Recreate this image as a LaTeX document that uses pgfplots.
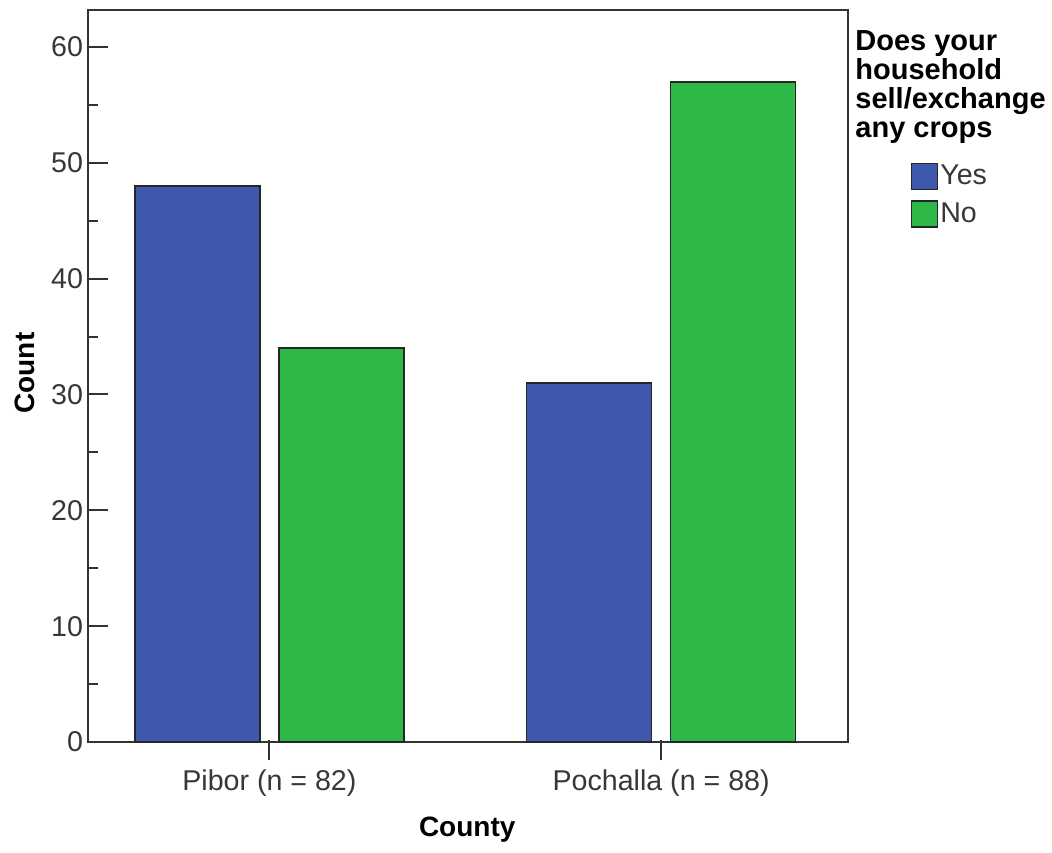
\documentclass[border=0pt]{standalone}
\usepackage{fontspec}
\setmainfont{Liberation Sans}
\usepackage{pgfplots}
\pgfplotsset{compat=1.18}
\definecolor{spssblue}{RGB}{62,88,172}
\definecolor{spssgreen}{RGB}{46,184,72}
\definecolor{ticktext}{RGB}{55,55,55}
\begin{document}
\begin{tikzpicture}
\pgfplotsset{mylegend/.style={legend image code/.code={\draw[##1,draw=black!85,line width=0.8pt] (0pt,-6.5pt) rectangle (13pt,6.5pt);}}}
\begin{axis}[
  at={(0,0)}, anchor=south west,
  scale only axis, width=380pt, height=366pt,
  ymin=0, ymax=63.19,
  xmin=-0.463, xmax=1.477,
  xtick={0,1}, xticklabels={Pibor (n = 82), Pochalla (n = 88)},
  ytick={0,10,20,30,40,50,60},
  minor ytick={5,15,25,35,45,55},
  tick align=inside,
  major tick length=10pt, minor tick length=5pt,
  xtick pos=bottom, ytick pos=left,
  x tick style={yshift=-9pt, line width=1pt, black!80},
  y tick style={line width=1pt, black!80},
  axis line style={black!80, line width=1pt},
  /pgf/number format/assume math mode=true,
  tick label style={font=\fontsize{14.3}{17}\selectfont, text=ticktext},
  xticklabel style={yshift=-10.5pt},
  yticklabel style={xshift=1pt},
  xlabel={County}, ylabel={Count},
  every axis x label/.style={at={(rel axis cs:0.499,-0.1202)}, anchor=center, font=\bfseries\fontsize{14}{16}\selectfont},
  every axis y label/.style={at={(rel axis cs:-0.0829,0.504)}, anchor=center, rotate=90, font=\bfseries\fontsize{14}{16}\selectfont},
  legend style={at={(rel axis cs:1.082,0.792)}, anchor=north west, draw=none, fill=none,
    inner sep=0pt, font=\fontsize{14.3}{17}\selectfont, text=ticktext,
    row sep=5pt, nodes={inner sep=1pt, anchor=west}},
  legend cell align=left,
]
\addplot[ybar, bar width=0.319, bar shift=-0.1837, fill=spssblue, draw=black!85, line width=0.8pt, mylegend]
  coordinates {(0,48) (1,31)};
\addplot[ybar, bar width=0.319, bar shift=0.1837, fill=spssgreen, draw=black!85, line width=0.8pt, mylegend]
  coordinates {(0,34) (1,57)};
\legend{Yes, No}
\end{axis}
\node[anchor=north west, inner sep=0pt, align=left, font=\bfseries\fontsize{14.5}{14.6}\selectfont] at (383.5pt,356pt) {Does your\\household\\sell/exchange\\any crops};
\pgfresetboundingbox
\path[use as bounding box] (-44pt,-55pt) rectangle (482pt,371pt);
\end{tikzpicture}
\end{document}
